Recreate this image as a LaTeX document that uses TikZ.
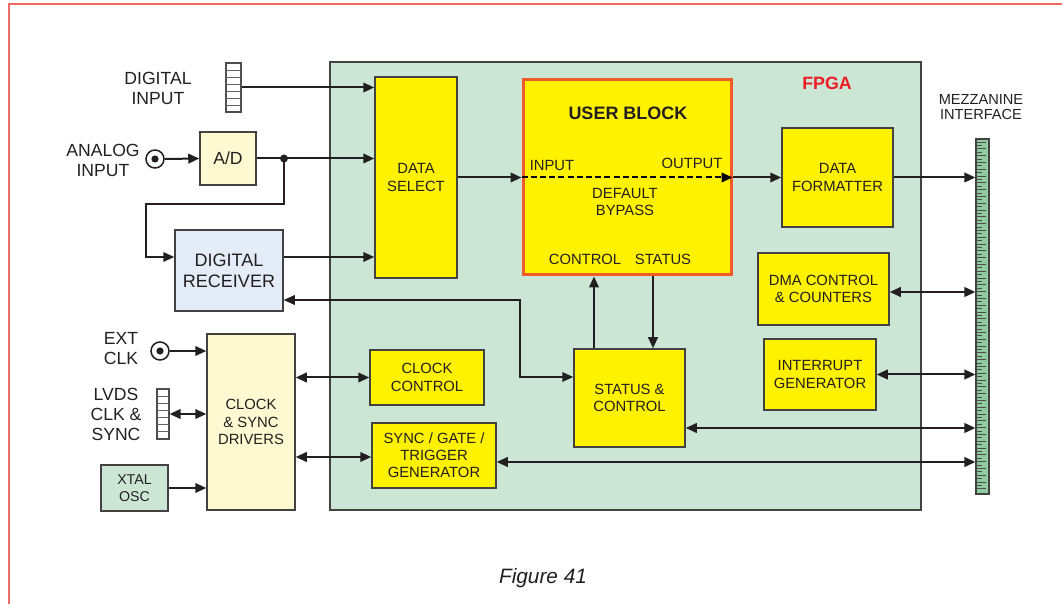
\documentclass[tikz,border=0pt]{standalone}
\usepackage{fontspec}
\setmainfont{Liberation Sans}
\usetikzlibrary{arrows.meta}
\definecolor{fpgagreen}{HTML}{CCE6D6}
\definecolor{ylw}{HTML}{FFF200}
\definecolor{lylw}{HTML}{FFF9D2}
\definecolor{lblue}{HTML}{E3ECF7}
\definecolor{orng}{HTML}{F15A29}
\definecolor{fred}{HTML}{ED1C24}
\definecolor{pagered}{HTML}{EE6A62}
\definecolor{mzgreen}{HTML}{8FCB9F}
\definecolor{ink}{HTML}{231F20}
\newcommand{\innerfont}{\fontsize{7.4}{8.6}\selectfont}
\newcommand{\labfont}{\fontsize{8.8}{10}\selectfont}
\begin{document}
\begin{tikzpicture}[x=0.5pt,y=-0.5pt,
  rect/.style n args={4}{minimum width={(#3-#1)*0.5pt}, minimum height={(#4-#2)*0.5pt}, at={({(#1+#3)/2},{(#2+#4)/2})}},
  blk/.style={draw=ink!85, line width=0.75pt, inner sep=0pt, align=center, font=\innerfont, text=ink},
  yel/.style={blk, fill=ylw},
  lab/.style={align=center, font=\labfont, text=ink, inner sep=0pt},
  arr/.style={-{Triangle[length=5.5pt,width=4.8pt]}, line width=1pt, draw=ink},
  darr/.style={{Triangle[length=5.5pt,width=4.8pt]}-{Triangle[length=5.5pt,width=4.8pt]}, line width=1pt, draw=ink},
  conn/.style={draw=ink!80, fill=white, line width=0.6pt, inner sep=0pt}
]
\useasboundingbox (0,0) rectangle (1062,604);
% page frame
\draw[pagered, line width=0.8pt] (1062,4) -- (9,4) -- (9,604);

% FPGA
\node[draw=ink!85, fill=fpgagreen, line width=0.75pt, inner sep=0pt, rect={330}{62}{921}{510}] (fpga) {};
\node[font=\fontsize{8.9}{10}\selectfont\bfseries, text=fred] (fpgalab) at (827,83) {FPGA};

% blocks
\node[yel, rect={375}{77}{457}{278}] (ds) {DATA\\SELECT};
\node[blk, fill=ylw, draw=orng, line width=1.5pt, rect={523}{80}{731}{275}] (ub) {};
\node[font=\fontsize{9}{10}\selectfont\bfseries, text=ink] (ubt) at (628,113) {USER BLOCK};
\node[font=\innerfont, text=ink] (ubin) at (552,165) {INPUT};
\node[font=\innerfont, text=ink] (ubout) at (692,163) {OUTPUT};
\node[font=\innerfont, text=ink, align=center] (ubby) at (625,202) {DEFAULT\\BYPASS};
\node[font=\innerfont, text=ink] (ubctl) at (585,259) {CONTROL};
\node[font=\innerfont, text=ink] (ubst) at (663,259) {STATUS};
\node[yel, rect={782}{128}{893}{227}] (df) {DATA\\FORMATTER};
\node[yel, rect={758}{253}{889}{325}] (dma) {DMA CONTROL\\\& COUNTERS};
\node[yel, rect={764}{339}{876}{410}] (irq) {INTERRUPT\\GENERATOR};
\node[yel, rect={574}{349}{685}{447}] (sc) {STATUS \&\\CONTROL};
\node[yel, rect={370}{350}{484}{405}] (cc) {CLOCK\\CONTROL};
\node[yel, rect={372}{423}{496}{488}] (sg) {SYNC / GATE /\\TRIGGER\\GENERATOR};

% outside blocks
\node[blk, fill=lylw, rect={200}{132}{256}{185}, font=\labfont] (ad) {A/D};
\node[blk, fill=lblue, rect={175}{230}{283}{311}, font=\fontsize{9}{10.5}\selectfont] (dr) {DIGITAL\\RECEIVER};
\node[blk, fill=lylw, rect={207}{334}{295}{510}] (csd) {CLOCK\\\& SYNC\\DRIVERS};
\node[blk, fill=fpgagreen, rect={101}{465}{168}{511}, font=\fontsize{7.1}{8.3}\selectfont] (xtal) {XTAL\\OSC};

% connectors
\node[conn, rect={226}{63}{241}{112}] (din) {};
\foreach \yy in {70,77,84,91,98,105} \draw[ink!70, line width=0.4pt] (226,\yy) -- (241,\yy);
\node[conn, rect={157}{389}{169}{439}] (lvds) {};
\foreach \yy in {396,403,410,417,424,431} \draw[ink!70, line width=0.4pt] (157,\yy) -- (169,\yy);
\node[draw=ink!85, fill=mzgreen, line width=0.6pt, inner sep=0pt, rect={976}{139}{989}{494}] (mz) {};
\foreach \i in {0,...,102} {
  \pgfmathsetmacro{\yy}{142+\i*3.4}
  \pgfmathsetmacro{\xe}{mod(\i,2)==0 ? 986 : 982}
  \draw[ink!80, line width=0.4pt] (976,\yy) -- (\xe,\yy);
}
\node[circle, draw=ink, line width=0.75pt, fill=white, minimum size=9pt, inner sep=0pt] (bnca) at (155,159) {};
\fill[ink] (bnca.center) circle[radius=1.8pt];
\node[circle, draw=ink, line width=0.75pt, fill=white, minimum size=9pt, inner sep=0pt] (bncc) at (160,351) {};
\fill[ink] (bncc.center) circle[radius=1.8pt];

% labels
\node[lab] (ldin) at (158,88) {DIGITAL\\INPUT};
\node[lab] (lana) at (103,160) {ANALOG\\INPUT};
\node[lab] (lext) at (121,349) {EXT\\CLK};
\node[lab] (llvds) at (116,414) {LVDS\\CLK \&\\SYNC};
\node[lab, font=\fontsize{7.3}{7.6}\selectfont] (lmz) at (981,107) {MEZZANINE\\INTERFACE};
\node[font=\fontsize{10.4}{12}\selectfont\itshape, text=ink] (fig) at (543,578) {Figure 41};

% helper coordinates
\coordinate (jn) at (284,158.5);
\coordinate (y204) at (0,204);
\coordinate (x146) at (146,0);
\coordinate (y257) at (0,257);
\coordinate (y300) at (0,300);
\coordinate (y377) at (0,377);
\coordinate (x520) at (520,0);
\coordinate (x594) at (594,0);
\coordinate (x653) at (653,0);
\coordinate (y428) at (0,428);
\coordinate (y462) at (0,462);
\coordinate (y457) at (0,457);
\coordinate (y292) at (0,292);

% connections
\draw[arr] (din.east) -- (ds.west |- din.east);
\draw[arr] (bnca.east) -- (ad.west);
\draw[arr] (ad.east) -- (ds.west |- ad.east);
\fill[ink] (jn) circle[radius=2pt];
\draw[arr, line width=0.75pt] (jn) -- (jn |- y204) -- (x146 |- y204) |- (dr.west |- y257);
\draw[arr] (dr.east |- y257) -- (ds.west |- y257);
\draw[arr] (ds.east) -- (ub.west);
\draw[dashed, dash pattern=on 3pt off 1.6pt, line width=1pt, -{Triangle[length=5.5pt,width=4.8pt]}] (ub.west) -- (ub.east);
\draw[arr] (ub.east) -- (df.west);
\draw[arr] (df.east) -- (mz.west |- df.east);
\draw[darr] (dma.east |- y292) -- (mz.west |- y292);
\draw[darr] (irq.east) -- (mz.west |- irq.east);
\draw[darr] (sc.east |- y428) -- (mz.west |- y428);
\draw[darr] (sg.east |- y462) -- (mz.west |- y462);
\draw[arr] (x594 |- sc.north) -- (x594 |- ub.south);
\draw[arr] (x653 |- ub.south) -- (x653 |- sc.north);
\draw[darr, line width=0.75pt] (dr.east |- y300) -| (x520 |- y377) -- (sc.west |- y377);
\draw[darr] (csd.east |- cc.west) -- (cc.west);
\draw[darr] (csd.east |- y457) -- (sg.west |- y457);
\draw[arr] (bncc.east) -- (csd.west |- bncc.east);
\draw[darr] (lvds.east) -- (csd.west |- lvds.east);
\draw[arr] (xtal.east) -- (csd.west |- xtal.east);
\end{tikzpicture}
\end{document}
